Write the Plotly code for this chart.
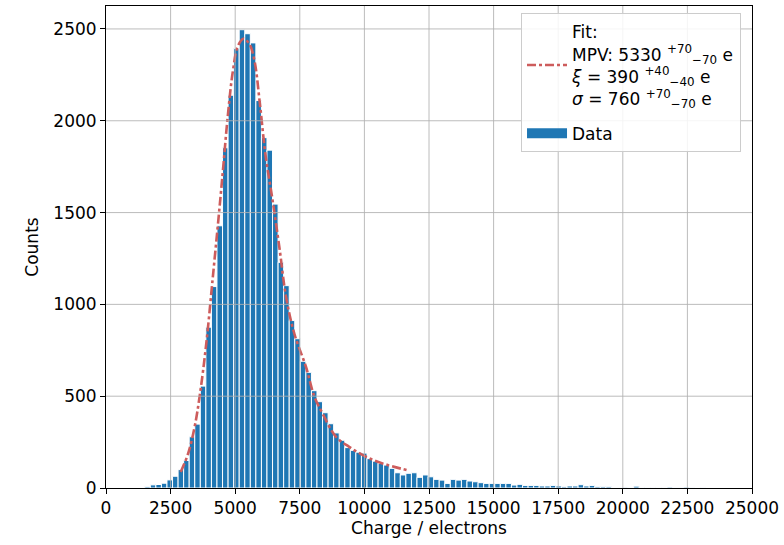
import numpy as np
import plotly.graph_objects as go

# ---------------- data ----------------
bin_start = 1500.0          # left edge of first bin (electrons)
bin_width = 215.0           # bin width (electrons)
counts = [
    7, 17, 19, 26, 44, 64, 100, 150, 279, 348,
    555, 876, 1097, 1428, 1853, 2139, 2393, 2496, 2474, 2424,
    2110, 1908, 1840, 1546, 1229, 1102, 912, 813, 690, 630,
    530, 470, 410, 350, 300, 260, 220, 205, 195, 190,
    160, 146, 134, 125, 107, 83, 71, 80, 83, 58,
    71, 61, 47, 43, 25, 47, 43, 47, 38, 34,
    29, 25, 25, 25, 25, 25, 16, 20, 14, 14,
    14, 11, 11, 14, 11, 7, 11, 11, 18, 11,
    14, 7, 7, 7, 3, 2, 4, 3, 10, 3,
    2, 1, 2, 1, 5, 1, 1, 5, 1, 0, 1,
]

fit_charge = [2890, 3180, 3430, 3630, 3880, 4140, 4370, 4500, 4720, 4910,
              5100, 5320, 5560, 5750, 5950, 6170, 6450, 6710, 6970, 7290,
              7740, 8060, 8380, 8900, 9410, 10060, 10700, 11730]
fit_counts = [87, 188, 333, 505, 786, 1157, 1492, 1690, 2035, 2270,
              2405, 2447, 2415, 2324, 2100, 1817, 1564, 1310, 1039, 840,
              659, 500, 406, 279, 224, 170, 134, 94]

x_ticks = [0, 2500, 5000, 7500, 10000, 12500, 15000, 17500, 20000, 22500, 25000]
y_ticks = [0, 500, 1000, 1500, 2000, 2500]

fit_label = ("Fit:<br>MPV: 5330 <sup>+70</sup><sub>\u221270</sub> e<br>"
             "<i>\u03be</i> = 390 <sup>+40</sup><sub>\u221240</sub> e<br>"
             "<i>\u03c3</i> = 760 <sup>+70</sup><sub>\u221270</sub> e")

# ---------------- figure ----------------
centers = bin_start + bin_width * (np.arange(len(counts)) + 0.5)
bar_color = "#1f77b4"

fig = go.Figure()
fig.add_trace(go.Bar(
    x=centers, y=counts, width=bin_width,
    marker=dict(color=bar_color, line=dict(color="white", width=1)),
    name="Data", showlegend=False,
))
fig.add_trace(go.Scatter(
    x=fit_charge, y=fit_counts, mode="lines",
    line=dict(color="#cd5c5c", width=2.6, dash="dashdot", shape="spline"),
    name=fit_label, legendrank=1, legendgroup="fit",
))
# legend proxy for the histogram (wide rectangle patch like the reference)
fig.add_trace(go.Scatter(
    x=[None], y=[None], mode="lines",
    line=dict(color=bar_color, width=14),
    name="Data", legendrank=2, legendgroup="data",
))

# grid lines drawn above the bars (as in the reference)
shapes = []
for xv in x_ticks[1:-1]:
    shapes.append(dict(type="line", xref="x", yref="y domain", x0=xv, x1=xv,
                       y0=0, y1=1, layer="above",
                       line=dict(color="rgba(176,176,176,0.85)", width=1)))
for yv in y_ticks[1:]:
    shapes.append(dict(type="line", xref="x domain", yref="y", x0=0, x1=1,
                       y0=yv, y1=yv, layer="above",
                       line=dict(color="rgba(176,176,176,0.85)", width=1)))

font = "DejaVu Sans, Liberation Sans, sans-serif"
fs = 17
fig.update_layout(
    width=784, height=545,
    margin=dict(l=106, r=30, t=5, b=57),
    paper_bgcolor="white", plot_bgcolor="white",
    font=dict(family=font, size=fs, color="black"),
    showlegend=True,
    legend=dict(
        x=0.983, y=0.985, xanchor="right", yanchor="top",
        bgcolor="rgba(255,255,255,0.85)", bordercolor="#cccccc", borderwidth=1,
        font=dict(family=font, size=fs, color="black"),
        tracegroupgap=10, itemwidth=40,
    ),
    shapes=shapes,
    xaxis=dict(
        range=[0, 25000], tickvals=x_ticks, ticktext=[str(v) for v in x_ticks],
        showgrid=False, zeroline=False,
        showline=True, mirror=True, linecolor="black", linewidth=1,
        ticks="outside", ticklen=5, tickcolor="black",
        tickfont=dict(size=fs),
        title=dict(text="Charge / electrons", standoff=4, font=dict(size=fs)),
    ),
    yaxis=dict(
        range=[0, 2625], tickvals=y_ticks, ticktext=[str(v) for v in y_ticks],
        showgrid=False, zeroline=False,
        showline=True, mirror=True, linecolor="black", linewidth=1,
        ticks="outside", ticklen=5, tickcolor="black",
        tickfont=dict(size=fs),
        title=dict(text="Counts", standoff=10, font=dict(size=fs)),
    ),
)

fig.write_html("out.html")
